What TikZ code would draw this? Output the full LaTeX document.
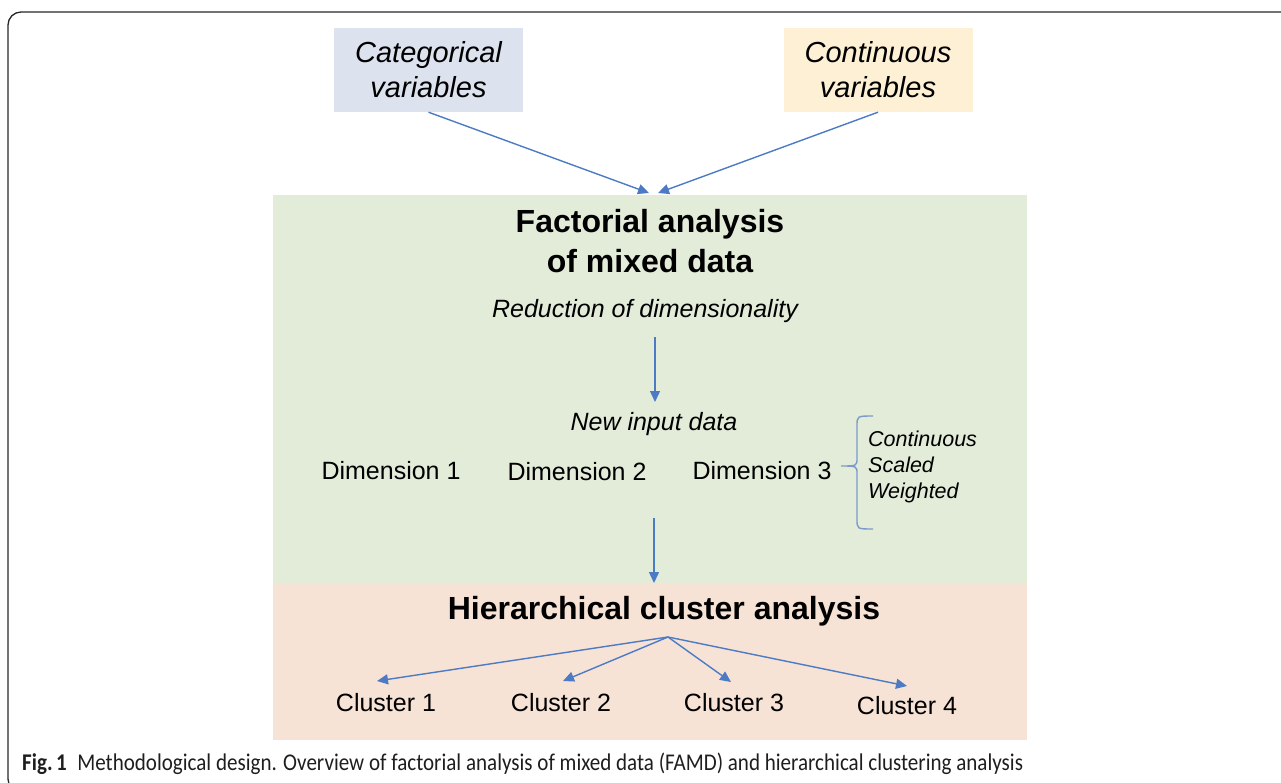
\documentclass[tikz,border=0pt]{standalone}
\usepackage{fontspec}
\usepackage{graphicx}
\setmainfont{Liberation Sans}
\newfontfamily\capfont{Carlito}
\usetikzlibrary{arrows.meta}

\definecolor{catfill}{HTML}{DCE3EE}
\definecolor{contfill}{HTML}{FDF0D5}
\definecolor{famdfill}{HTML}{E3ECD9}
\definecolor{hcafill}{HTML}{F7E3D6}
\definecolor{flowblue}{HTML}{4C7AC4}
\definecolor{braceblue}{HTML}{7A9BCB}
\definecolor{captext}{HTML}{1E1E1E}

\tikzset{
  varbox/.style={draw=none, inner sep=0pt, minimum width=189pt, minimum height=84pt,
    align=center, font=\fontsize{29}{35}\selectfont\itshape},
  panel/.style={draw=none, inner sep=0pt, minimum width=754pt},
  flow/.style={draw=flowblue, line width=1.4pt, -{Triangle[length=11pt,width=10pt]}},
  heading/.style={align=center, inner sep=0pt, font=\fontsize{32}{40}\selectfont\bfseries},
  subheading/.style={inner sep=0pt, font=\fontsize{25}{30}\selectfont\itshape},
  dimlabel/.style={inner sep=0pt, font=\fontsize{25}{30}\selectfont},
  clusterlabel/.style={inner sep=0pt, font=\fontsize{25}{30}\selectfont},
  props/.style={inner sep=0pt, align=left, font=\fontsize{21.5}{26}\selectfont\itshape},
}

\begin{document}
\begin{tikzpicture}[x=1pt, y=-1pt]
\useasboundingbox (0,0) rectangle (1281,782);

% outer frame of the figure
\begin{scope}
\clip (0,0) rectangle (1281,782);
\draw[line width=1.3pt, black!85, rounded corners=13pt] (1300,12) -- (8,12) -- (8,792) -- (1300,792);
\end{scope}

% panels
\node[panel, fill=famdfill, minimum height=388pt] (famd) at (650,389) {};
\node[panel, fill=hcafill, minimum height=157pt] (hca) at (650,661.5) {};

% input variables
\node[varbox, fill=catfill] (cat) at (428.5,70) {Categorical\\variables};
\node[varbox, fill=contfill] (cont) at (878,70) {Continuous\\variables};

\coordinate (inL) at (649,193);
\coordinate (inR) at (658,193);
\draw[flow] (cat.south) -- (inL);
\draw[flow] (cont.south) -- (inR);

% factorial analysis of mixed data
\node[heading] (title) at (650,241) {Factorial analysis\\of mixed data};
\node[subheading] (reduce) at (645,311) {Reduction of dimensionality};
\coordinate (d1s) at (655,337);
\coordinate (d1e) at (655,402);
\draw[flow] (d1s) -- (d1e);

\node[subheading] (newin) at (654,424) {New input data};
\node[dimlabel] (dim1) at (391,471) {Dimension 1};
\node[dimlabel] (dim2) at (577,472) {Dimension 2};
\node[dimlabel] (dim3) at (762,471) {Dimension 3};

% brace grouping the properties of the dimensions
\draw[braceblue, line width=1.4pt] (873,416) .. controls (857,416) .. (857,426)
  -- (857,458) .. controls (857,466) .. (841,466)
  .. controls (857,466) .. (857,474) -- (857,519) .. controls (857,529) .. (873,529);
\node[props, anchor=west] (props) at (868,467) {Continuous\\Scaled\\Weighted};

\coordinate (d2s) at (654,518);
\coordinate (d2e) at (654,583);
\draw[flow] (d2s) -- (d2e);

% hierarchical cluster analysis
\node[heading] (hcatitle) at (664,611) {Hierarchical cluster analysis};
\coordinate (fan) at (668,637);
\node[clusterlabel] (c1) at (386,703) {Cluster 1};
\node[clusterlabel] (c2) at (561,703) {Cluster 2};
\node[clusterlabel] (c3) at (734,703) {Cluster 3};
\node[clusterlabel] (c4) at (907,706) {Cluster 4};
\coordinate (t1) at (377,681);
\coordinate (t2) at (563,681);
\coordinate (t3) at (731,682);
\coordinate (t4) at (907,686);
\foreach \t in {t1,t2,t3,t4} \draw[flow] (fan) -- (\t);

% caption
\node[anchor=west, inner sep=0pt, text=captext] (caption) at (22,764)
  {\resizebox{1001pt}{\height}{\capfont\fontsize{24}{28}\selectfont\textbf{Fig.\,1}\hspace{0.5em}Methodological design. Overview of factorial analysis of mixed data (FAMD) and hierarchical clustering analysis}};
\end{tikzpicture}
\end{document}
